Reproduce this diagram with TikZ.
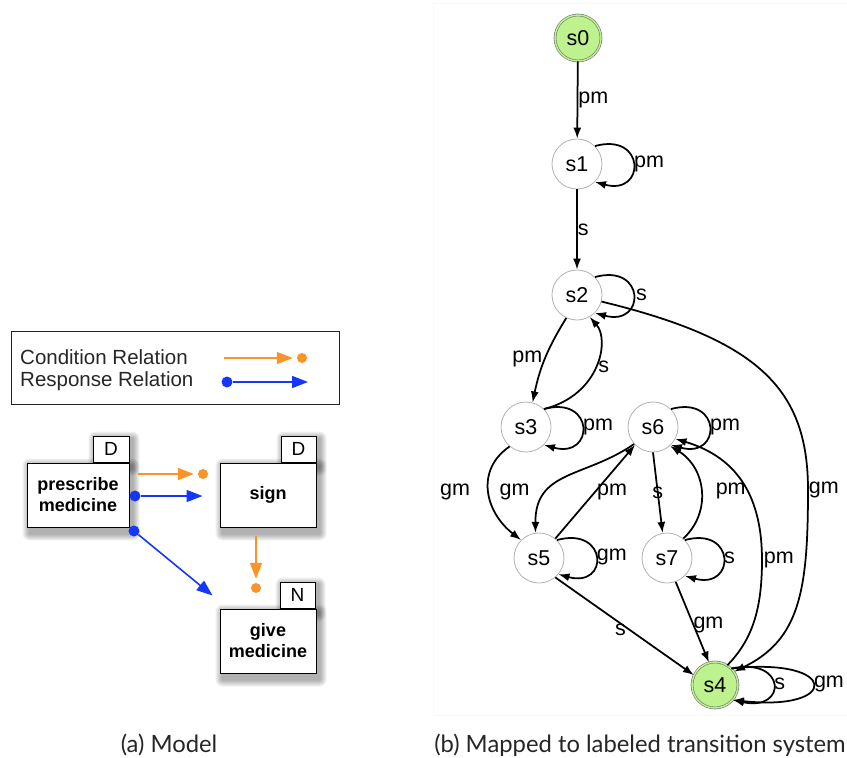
\documentclass[tikz,border=0pt]{standalone}
\usepackage{fontspec}
\setmainfont{Liberation Sans}
\newfontfamily\capfont{Lato}
\usetikzlibrary{arrows.meta,calc,backgrounds}
\definecolor{stgreen}{RGB}{190,242,142}
\definecolor{corange}{RGB}{250,148,40}
\definecolor{rblue}{RGB}{20,55,250}
\newcommand\boxshade[1]{\foreach \k in {1,...,7}{\fill[black,opacity=0.05,rounded corners=\k pt] ($(#1.north west)+(3-\k,-3+\k)$) rectangle ($(#1.south east)+(3+\k,-6-\k)$);}}
\begin{document}
\begin{tikzpicture}[x=1pt,y=1pt,
  st/.style={circle, draw=gray!60, line width=0.8pt, minimum size=50pt, inner sep=0pt, fill=white, font=\fontsize{21.5}{21.5}\selectfont},
  ini/.style={minimum size=46pt, fill=stgreen, draw=gray!90!black, double=stgreen, double distance=1.4pt, line width=0.6pt},
  tr/.style={line width=1.75pt, -{Latex[length=11pt,width=8pt]}},
  lab/.style={inner sep=0pt, font=\fontsize{21.5}{21.5}\selectfont},
  abox/.style={draw=black, line width=1pt, fill=white, align=center, font=\bfseries\fontsize{18}{21}\selectfont, inner sep=0pt},
  tagbox/.style={draw=black, line width=1pt, fill=white, minimum width=36pt, minimum height=26pt, inner sep=0pt, font=\fontsize{19}{19}\selectfont},
  cond/.style={draw=corange, line width=1.6pt, -{Triangle[length=16pt,width=12pt]}, shorten >=4pt},
  resp/.style={draw=rblue, line width=1.6pt, -{Triangle[length=16pt,width=12pt]}},
  odot/.style={circle, fill=corange, inner sep=0pt, minimum size=10pt},
  bdot/.style={circle, fill=rblue, inner sep=0pt, minimum size=11pt},
  legtext/.style={anchor=west, inner sep=0pt, font=\fontsize{20.5}{20.5}\selectfont, text=black!85},
  capt/.style={font=\capfont\fontsize{23.8}{23.8}\selectfont, text=black!85, inner sep=0pt}
]
\useasboundingbox (0,0) rectangle (847,-758);
\draw[gray!5, line width=1pt] (433,-3) rectangle (852,-715);

% ---------- (a) model ----------
\node[draw=black!85, line width=1.3pt, minimum width=328pt, minimum height=73pt, anchor=north west, inner sep=0pt] (leg) at (11,-331) {};
\node[legtext] (ct) at (20,-357) {Condition Relation};
\node[legtext] (rt) at (20,-381) {Response Relation};
\coordinate (lo1) at (224,-358);
\node[odot] (ld1) at (302,-358) {};
\draw[cond] (lo1) -- (ld1);
\node[bdot] (ld2) at (227,-382) {};
\coordinate (lb2) at (308,-382);
\draw[resp] (ld2) -- (lb2);

\node[abox, minimum width=102pt, minimum height=64pt] (pres) at (78,-495) {prescribe\\medicine};
\node[tagbox, anchor=south east] (presT) at (pres.north east) {D};
\node[abox, minimum width=96pt, minimum height=64pt] (sign) at (268,-495) {sign};
\node[tagbox, minimum width=35pt, anchor=south east] (signT) at (sign.north east) {D};
\node[abox, minimum width=96pt, minimum height=64pt] (give) at (268,-641) {give\\medicine};
\node[tagbox, minimum width=35pt, anchor=south east] (giveT) at ($(give.north east)+(-1,0)$) {N};

\begin{scope}[on background layer]
\boxshade{pres}\boxshade{presT}\boxshade{sign}\boxshade{signT}\boxshade{give}\boxshade{giveT}
\end{scope}

\node[odot] (d1) at (203,-474) {};
\draw[cond] ($(pres.east)+(8,21)$) -- (d1);
\node[bdot] (d2) at (135,-496) {};
\draw[resp] (d2) -- ($(sign.west)+(-17,-1)$);
\node[bdot] (d3) at (134,-531) {};
\draw[resp] (d3) -- ($(give.north west)+(-7,13)$);
\node[odot] (d4) at (256,-588) {};
\draw[cond] ($(sign.south)+(-12,-8)$) -- (d4);

% ---------- (b) transition system ----------
\node[st, ini] (s0) at (578,-38) {s0};
\node[st] (s1) at (577,-164) {s1};
\node[st] (s2) at (577,-295) {s2};
\node[st] (s3) at (526,-427) {s3};
\node[st] (s6) at (653,-427) {s6};
\node[st] (s5) at (539,-558) {s5};
\node[st] (s7) at (667,-558) {s7};
\node[st, ini] (s4) at (715,-685) {s4};

\draw[tr] (s0) -- node[lab, anchor=west] {pm} (s1);
\draw[tr] (s1) -- node[lab, anchor=west] {s} (s2);
% loops
\draw[tr] (s1.45) .. controls +(51,14) and +(51,-14) .. (s1.-45) node[lab, midway, anchor=west] {pm};
\draw[tr] (s2.45) .. controls +(51,14) and +(51,-14) .. (s2.-45) node[lab, midway, anchor=west, xshift=2pt] {s};
\draw[tr] (s3.45) .. controls +(51,14) and +(51,-14) .. (s3.-45) node[lab, midway, anchor=west] {pm};
\draw[tr] (s6.45) .. controls +(51,14) and +(51,-14) .. (s6.-45) node[lab, midway, anchor=west] {pm};
\draw[tr] (s5.45) .. controls +(51,14) and +(51,-14) .. (s5.-40) node[lab, midway, anchor=west] {gm};
\draw[tr] (s7.45) .. controls +(51,14) and +(51,-14) .. (s7.-45) node[lab, midway, anchor=west] {s};
\draw[tr] (s4.45) .. controls +(55,12) and +(55,-12) .. (s4.-40) node[lab, midway, anchor=west] {s};
\draw[tr] (s4.45) .. controls +(108,12) and +(108,-12) .. (s4.-40) node[lab, midway, anchor=west] {gm};
% s2 -> s4
\draw[tr] (s2.-15) .. controls (760,-340) and (808,-390) .. (808,-490) node[lab, anchor=west] {gm}
          .. controls (808,-590) and (800,-640) .. (s4.35);
% s2 <-> s3
\draw[tr] (s2.-115) to[bend right=10] node[lab, anchor=east, xshift=-2pt] {pm} (s3.75);
\draw[tr] (s3.45) .. controls (600,-395) and (610,-340) .. (s2.-60) node[lab, midway, anchor=west, xshift=2pt] {s};
% s3 -> s5
\draw[tr] (s3.-130) .. controls (475,-470) and (485,-512) .. (s5.135)
   node[lab, midway, anchor=east, xshift=-18pt] {gm}
   node[lab, midway, anchor=west, xshift=10pt] {gm};
% s6 <-> s5
\draw[tr] (s6.-138) .. controls (585,-478) and (535,-470) .. (s5.98);
\draw[tr] (s5.50) -- node[lab, anchor=west, xshift=1pt] {pm} (s6.-135);
% s6 <-> s7
\draw[tr] (s6.-90) -- node[lab, fill=none] {s} (s7.100);
\draw[tr] (s7.50) .. controls (712,-512) and (706,-468) .. (s6.-48) node[lab, midway, anchor=west, xshift=14pt] {pm};
% s4 -> s6
\draw[tr] (s4.58) .. controls (752,-640) and (762,-610) .. (762,-560) node[lab, anchor=west, xshift=1pt] {pm}
          .. controls (762,-500) and (740,-458) .. (s6.-28);
% s5 -> s4, s7 -> s4
\draw[tr] (s5.-50) -- node[lab, xshift=-4pt, yshift=-4pt] {s} (s4.155);
\draw[tr] (s7.-70) -- node[lab, pos=.54, anchor=west, xshift=-1pt] {gm} (s4.105);

% ---------- captions ----------
\node[capt] (capa) at (169,-745) {(a) Model};
\node[capt] (capb) at (640,-745) {(b) Mapped to labeled transition system};
\end{tikzpicture}
\end{document}
